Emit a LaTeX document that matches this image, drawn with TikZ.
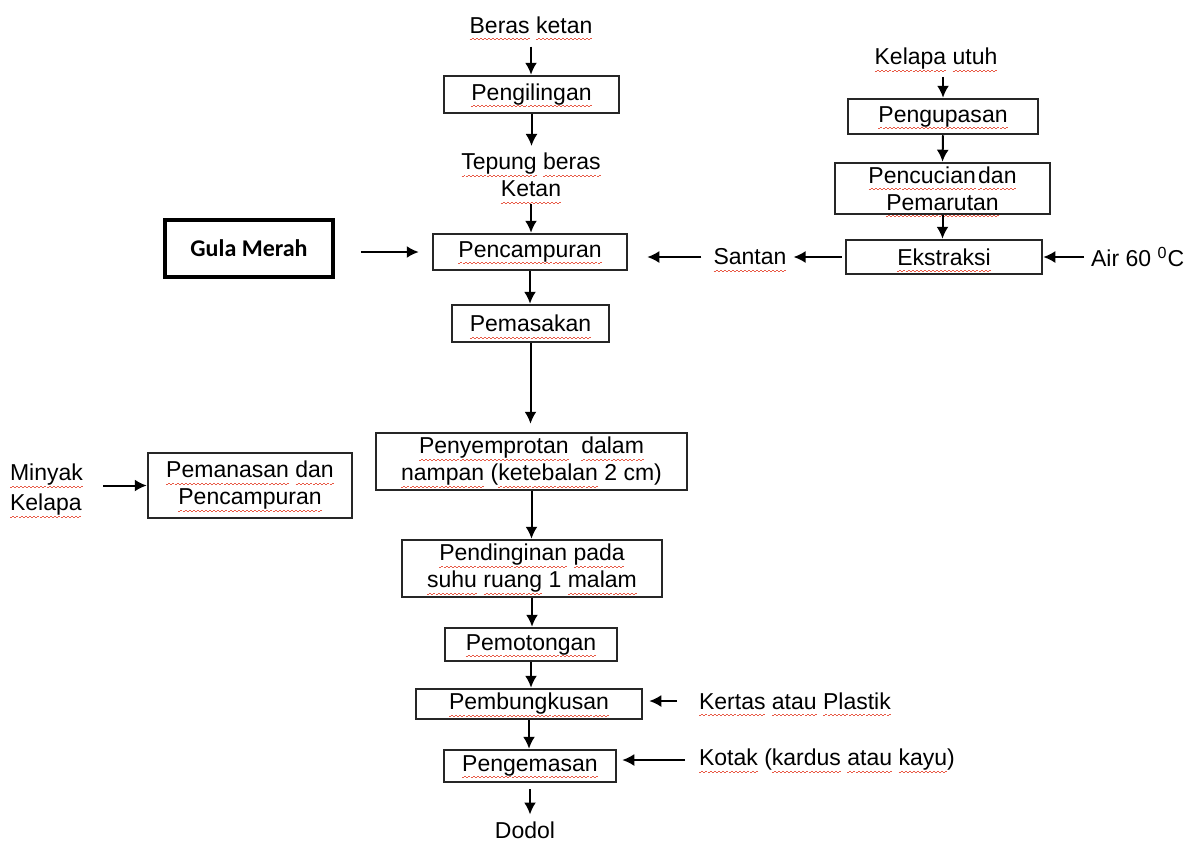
\documentclass[tikz,border=0pt]{standalone}
\usepackage{fontspec}
\setmainfont{Liberation Sans}
\newfontfamily\calibri{Carlito}
\usetikzlibrary{arrows.meta}
\definecolor{SpellRed}{RGB}{232, 90, 70}
\newsavebox{\sqbox}
\newcommand{\sq}[1]{\sbox{\sqbox}{#1}\leavevmode\rlap{\raisebox{0pt}[0pt][0pt]{\color{SpellRed}\hbox to\wd\sqbox{\xleaders\hbox{\rule[-3.3pt]{1pt}{0.4pt}\rule[-2.8pt]{1pt}{0.4pt}}\hfill}}}\usebox{\sqbox}}

\begin{document}
\begin{tikzpicture}[x=0.5pt, y=-0.5pt,
    every node/.style={font=\fontsize{11.5}{13.5}\selectfont, align=center},
    proc/.style={draw=black!85, line width=1.25pt, inner sep=0pt},
    arr/.style={-{Latex[length=6pt,width=6pt]}, line width=1pt}]
    \useasboundingbox (0,0) rectangle (1192,841);

    % main line
    \node (beras) at (531,25) {\sq{Beras} \sq{ketan}};
    \node[proc, minimum width=87.5pt, minimum height=18.5pt] (giling) at (531.5,94.5) {\sq{Pengilingan}};
    \node (tepung) at (531,175) {\sq{Tepung} \sq{beras}\\ \sq{Ketan}};
    \node[proc, minimum width=97pt, minimum height=18pt] (campur) at (530,252) {\sq{Pencampuran}};
    \node[proc, minimum width=78.5pt, minimum height=18.5pt] (masak) at (530.5,323.5) {\sq{Pemasakan}};
    \node[proc, minimum width=155.5pt, minimum height=28.5pt] (semprot) at (531.5,461.5) {\sq{Penyemprotan}\hspace{0.55em}\sq{dalam}\\ \sq{nampan} (\sq{ketebalan} 2 cm)};
    \node[proc, minimum width=130pt, minimum height=28.5pt] (dingin) at (532,568.5) {\sq{Pendinginan} \sq{pada}\\ \sq{suhu} \sq{ruang} 1 \sq{malam}};
    \node[proc, minimum width=86pt, minimum height=16.5pt] (potong) at (531,644.5) {\sq{Pemotongan}};
    \node[proc, minimum width=113pt, minimum height=15pt] (bungkus) at (529,704) {\sq{Pembungkusan}};
    \node[proc, minimum width=86pt, minimum height=16pt] (kemas) at (530,766) {\sq{Pengemasan}};
    \node (dodol) at (525,830) {Dodol};

    % side inputs
    \node[draw, line width=1.75pt, minimum width=84pt, minimum height=28.5pt, font={\calibri\bfseries\fontsize{12}{14}\selectfont}] (gula) at (249,248.5) {Gula Merah};
    \node[align=left, font=\fontsize{11.5}{15}\selectfont, anchor=east] (minyak) at (90,490) {\sq{Minyak}\\ \sq{Kelapa}};
    \node[proc, minimum width=102pt, minimum height=32.5pt] (panas) at (250,485.5) {\sq{Pemanasan} \sq{dan}\\ \sq{Pencampuran}};
    \node[anchor=west] (kertas) at (692,701) {\sq{Kertas} \sq{atau} \sq{Plastik}};
    \node[anchor=west] (kotak) at (692,760) {\sq{Kotak} (\sq{kardus} \sq{atau} \sq{kayu})};

    % coconut line
    \node (kelapa) at (936,59) {\sq{Kelapa} \sq{utuh}};
    \node[proc, minimum width=95pt, minimum height=17.5pt] (kupas) at (943,116.5) {\sq{Pengupasan}};
    \node[proc, minimum width=107.5pt, minimum height=25.5pt] (cuci) at (942.5,188.5) {\sq{Pencucian}\hspace{0.1em}\sq{dan}\\ \sq{Pemarutan}};
    \node[proc, minimum width=98pt, minimum height=17pt] (ekstrak) at (944,257) {\sq{Ekstraksi}};
    \node (santan) at (750,257) {\sq{Santan}};
    \node[anchor=west] (air) at (1084,257) {Air 60 \textsuperscript{0}C};

    \draw[arr, shorten <=3pt] (beras) -- (beras |- giling.north);
    \draw[arr] (giling.south) -- (giling.south |- tepung.north);
    \draw[arr] (tepung.south) -- (tepung.south |- campur.north);
    \draw[arr] (campur.south) -- (campur.south |- masak.north);
    \draw[arr, shorten >=4pt] (masak.south) -- (masak.south |- semprot.north);
    \draw[arr] (semprot.south) -- (semprot.south |- dingin.north);
    \draw[arr] (dingin.south) -- (dingin.south |- potong.north);
    \draw[arr] (potong.south) -- (potong.south |- bungkus.north);
    \draw[arr] (bungkus.south) -- (bungkus.south |- kemas.north);
    \draw[arr, shorten <=3pt] (kemas.south) -- (kemas.south |- dodol.north);

    \draw[arr, shorten <=13pt, shorten >=6.5pt] (gula.east |- campur.west) -- (campur.west);
    \draw[arr, shorten <=6.5pt] (minyak.east |- panas.west) -- (panas.west);
    \draw[arr, shorten <=7.5pt, shorten >=3pt] (kertas.west) -- (bungkus.east |- kertas.west);
    \draw[arr, shorten <=3.5pt, shorten >=2.5pt] (kotak.west) -- (kemas.east |- kotak.west);

    \draw[arr] (kelapa.south -| kupas.north) -- (kupas.north);
    \draw[arr] (kupas.south) -- (cuci.north);
    \draw[arr] (cuci.south) -- (cuci.south |- ekstrak.north);
    \draw[arr] (air.west) -- (ekstrak.east |- air.west);
    \draw[arr, shorten <=1.5pt] (ekstrak.west) -- (santan.east |- ekstrak.west);
    \draw[arr, shorten <=2.5pt, shorten >=9.5pt] (santan.west) -- (campur.east |- santan.west);
\end{tikzpicture}
\end{document}
